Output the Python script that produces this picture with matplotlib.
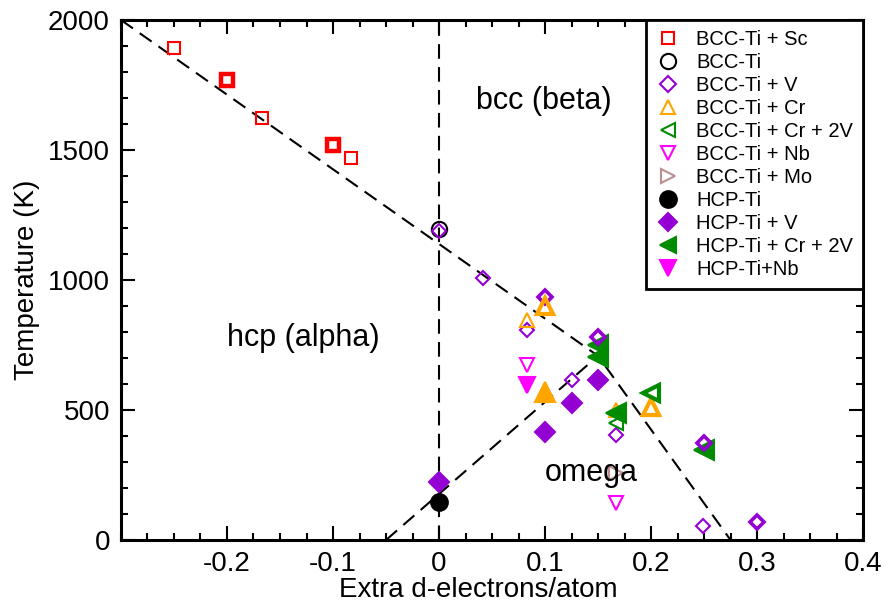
import numpy as np
import matplotlib
matplotlib.use("Agg")
import matplotlib.pyplot as plt
from matplotlib.ticker import MultipleLocator

plt.rcParams['font.family'] = ['Liberation Sans', 'DejaVu Sans']

# Data (extra d-electrons per atom, temperature in K)
sc_x = [-0.25, -0.167, -0.083]
sc_t = [1892, 1623, 1469]
sc_x_dbl = [-0.2, -0.1]          # repeated points (drawn heavier)
sc_t_dbl = [1769, 1519]

bcc_ti_x = [0.0]
bcc_ti_t = [1196]

bcc_v_x = [0.0, 0.0415, 0.083, 0.125, 0.167, 0.249]
bcc_v_t = [1188, 1008, 808, 615, 404, 54]
bcc_v_x_dbl = [0.1, 0.15, 0.25, 0.3]
bcc_v_t_dbl = [935, 781, 375, 69]

bcc_cr_x = [0.083, 0.167]
bcc_cr_t = [846, 500]
bcc_cr_x_dbl = [0.1, 0.2]
bcc_cr_t_dbl = [900, 510]

bcc_cr2v_x = [0.167, 0.25]
bcc_cr2v_t = [450, 350]
bcc_cr2v_x_dbl = [0.2]
bcc_cr2v_t_dbl = [565]

bcc_nb_x = [0.083, 0.167]
bcc_nb_t = [673, 143]

bcc_mo_x = [0.167]
bcc_mo_t = [258]

hcp_ti_x = [0.0]
hcp_ti_t = [146]

hcp_v_x = [0.0, 0.1, 0.125, 0.15]
hcp_v_t = [223, 415, 527, 615]

hcp_cr2v_x = [0.15, 0.15, 0.167, 0.25]
hcp_cr2v_t = [750, 704, 488, 346]

hcp_nb_x = [0.083]
hcp_nb_t = [596]

hcp_cr_x = [0.1]
hcp_cr_t = [570]

# Phase boundaries
upper_x = [-0.3, 0.15, 0.275]
upper_t = [2000, 708, 0]
lower_x = [-0.05, 0.15]
lower_t = [0, 708]
vert_x = [0.0, 0.0]
vert_t = [0, 2000]

fig = plt.figure(figsize=(8.87, 6.08), dpi=100)
ax = fig.add_axes([0.1364, 0.1118, 0.8366, 0.8553])

dash = (0, (7, 4))
ax.plot(upper_x, upper_t, color='black', lw=1.5, ls=dash, zorder=1)
ax.plot(lower_x, lower_t, color='black', lw=1.5, ls=dash, zorder=1)
ax.plot(vert_x, vert_t, color='black', lw=1.5, ls=dash, zorder=1)

red = '#ff0000'
purple = '#9400d3'
orange = '#ffa500'
green = '#008b00'
magenta = '#ff00ff'
brown = '#bc8f8f'

def pts(x, t, marker, color, ms, filled=False, mew=1.5, label=None):
    ax.plot(x, t, ls='none', marker=marker, ms=ms, mew=mew,
            mec=color, mfc=color if filled else 'none', label=label, zorder=3)

pts(sc_x, sc_t, 's', red, 8.5, label='BCC-Ti + Sc')
pts(bcc_ti_x, bcc_ti_t, 'o', 'black', 11, label='BCC-Ti')
pts(bcc_v_x, bcc_v_t, 'D', purple, 7, label='BCC-Ti + V')
pts(bcc_cr_x, bcc_cr_t, '^', orange, 10, label='BCC-Ti + Cr')
pts(bcc_cr2v_x, bcc_cr2v_t, '<', green, 10, label='BCC-Ti + Cr + 2V')
pts(bcc_nb_x, bcc_nb_t, 'v', magenta, 10, label='BCC-Ti + Nb')
pts(bcc_mo_x, bcc_mo_t, '>', brown, 10, label='BCC-Ti + Mo')
pts(hcp_ti_x, hcp_ti_t, 'o', 'black', 12, filled=True, label='HCP-Ti')
pts(hcp_v_x, hcp_v_t, 'D', purple, 10, filled=True, label='HCP-Ti + V')
pts(hcp_cr2v_x, hcp_cr2v_t, '<', green, 14, filled=True, label='HCP-Ti + Cr + 2V')
pts(hcp_nb_x, hcp_nb_t, 'v', magenta, 12, filled=True, label='HCP-Ti+Nb')
pts(hcp_cr_x, hcp_cr_t, '^', orange, 15, filled=True)

# heavier outlines for repeated points
pts(sc_x_dbl, sc_t_dbl, 's', red, 8.5, mew=3.2)
pts(bcc_v_x_dbl, bcc_v_t_dbl, 'D', purple, 7.5, mew=2.6)
pts(bcc_cr_x_dbl, bcc_cr_t_dbl, '^', orange, 11, mew=3.0)
pts(bcc_cr2v_x_dbl, bcc_cr2v_t_dbl, '<', green, 11, mew=3.0)

ax.text(0.099, 1688, 'bcc (beta)', fontsize=22, ha='center', va='center', zorder=4)
ax.text(-0.128, 777, 'hcp (alpha)', fontsize=22, ha='center', va='center', zorder=4)
ax.text(0.144, 258, 'omega', fontsize=22, ha='center', va='center', zorder=4)

ax.set_xlim(-0.3, 0.4)
ax.set_ylim(0, 2000)
ax.set_xticks([-0.2, -0.1, 0, 0.1, 0.2, 0.3, 0.4])
ax.set_xticklabels(['-0.2', '-0.1', '0', '0.1', '0.2', '0.3', '0.4'])
ax.xaxis.set_minor_locator(MultipleLocator(0.025))
ax.yaxis.set_major_locator(MultipleLocator(500))
ax.yaxis.set_minor_locator(MultipleLocator(100))
ax.tick_params(which='both', direction='in', top=True, right=True, width=1.5, labelsize=20)
ax.tick_params(which='major', length=10, pad=8)
ax.tick_params(which='minor', length=5)
for s in ax.spines.values():
    s.set_linewidth(2.2)

ax.set_xlabel('Extra d-electrons/atom', fontsize=20)
ax.xaxis.set_label_coords(0.481, -0.072)
ax.set_ylabel('Temperature (K)', fontsize=20, labelpad=6)

leg = ax.legend(loc='upper right', fontsize=14.5, borderaxespad=0, fancybox=False,
                edgecolor='black', framealpha=1, labelspacing=0.2, handlelength=1.2,
                handletextpad=0.8, borderpad=0.5, numpoints=1)
leg.get_frame().set_linewidth(2.0)
leg.set_zorder(5)
legend_ms = [8.5, 11, 8, 10, 10, 10, 10, 12, 9, 11, 11]
for h, m in zip(leg.legend_handles, legend_ms):
    h.set_markersize(m)

fig.savefig('out.png', dpi=100)
